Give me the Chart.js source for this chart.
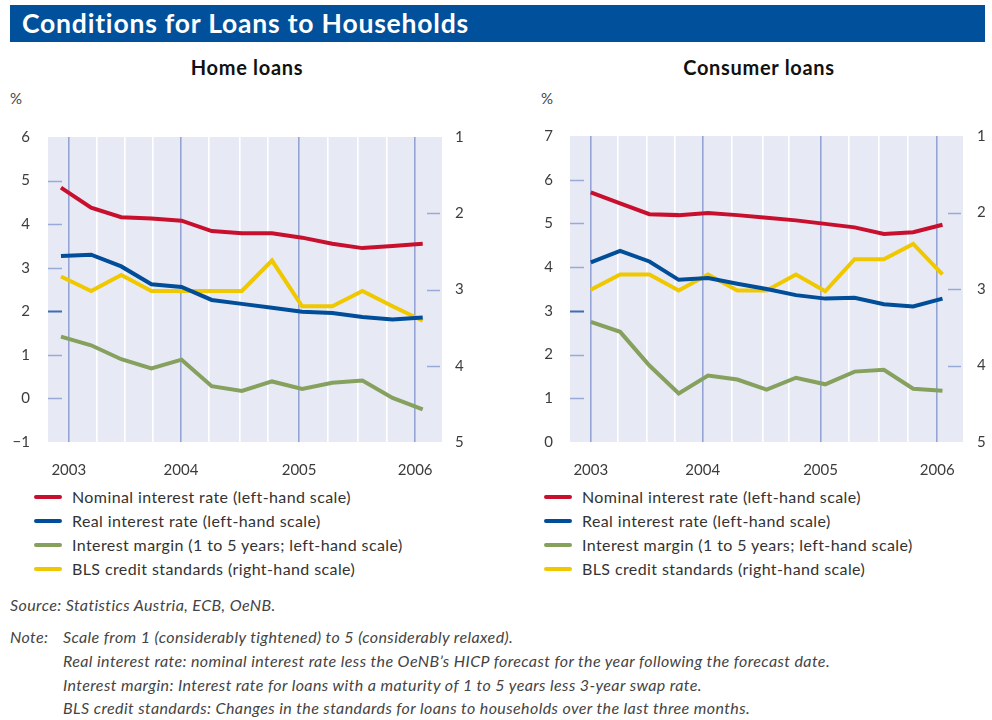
<!DOCTYPE html>
<html>
<head>
<meta charset="utf-8">
<script src="https://cdn.jsdelivr.net/npm/chart.js@4/dist/chart.umd.min.js"></script>
<style>
  body { margin: 0; width: 992px; height: 720px; background: #fff; font-family: Lato, "Open Sans", sans-serif; color: #333; position: relative; overflow: hidden; }
  .banner { position: absolute; left: 10px; top: 5px; width: 975px; height: 37px; background: #00509b; }
  .banner span { position: absolute; left: 12px; top: 2px; color: #fff; font-weight: bold; font-size: 26.5px; letter-spacing: 0.8px; white-space: nowrap; }
  .sub { position: absolute; top: 55px; font-weight: bold; font-size: 20px; letter-spacing: 0.7px; color: #111; text-align: center; width: 300px; }
  .pct { position: absolute; top: 89px; font-size: 15px; color: #444; }
  .box { position: absolute; top: 110px; height: 370px; }
  .legend { position: absolute; top: 486px; font-size: 16px; letter-spacing: 0.4px; color: #333; white-space: nowrap; }
  .legend div { height: 24px; line-height: 22px; position: relative; padding-left: 38px; }
  .legend i { position: absolute; left: 0; top: 9px; width: 28px; height: 4px; border-radius: 2px; }
  .src { position: absolute; left: 10px; top: 595px; font-size: 16px; letter-spacing: 0.4px; font-style: italic; color: #444; }
  .note { position: absolute; left: 10px; top: 625px; font-size: 16px; letter-spacing: 0.4px; font-style: italic; color: #444; line-height: 23.8px; white-space: nowrap; }
  .note div { padding-left: 53px; position: relative; }
  .note span { position: absolute; left: 0; }
</style>
</head>
<body>
<div class="banner"><span>Conditions for Loans to Households</span></div>
<div class="sub" style="left:97px">Home loans</div>
<div class="sub" style="left:609px">Consumer loans</div>
<div class="pct" style="left:10px">%</div>
<div class="pct" style="left:541px">%</div>

<div class="box" style="left:0; width:490px"><canvas id="homeChart"></canvas></div>
<div class="box" style="left:500px; width:492px"><canvas id="consumerChart"></canvas></div>

<div class="legend" style="left:34px" id="legendHome"></div>
<div class="legend" style="left:544px" id="legendConsumer"></div>

<div class="src">Source: Statistics Austria, ECB, OeNB.</div>
<div class="note">
  <div><span>Note:</span>Scale from 1 (considerably tightened) to 5 (considerably relaxed).</div>
  <div>Real interest rate: nominal interest rate less the OeNB’s HICP forecast for the year following the forecast date.</div>
  <div>Interest margin: Interest rate for loans with a maturity of 1 to 5 years less 3-year swap rate.</div>
  <div>BLS credit standards: Changes in the standards for loans to households over the last three months.</div>
</div>

<script>
const years = ['2003', '2004', '2005', '2006']
const seriesNames = [
  'Nominal interest rate (left-hand scale)',
  'Real interest rate (left-hand scale)',
  'Interest margin (1 to 5 years; left-hand scale)',
  'BLS credit standards (right-hand scale)'
]

// quarterly observations, 13 per panel
const homeNominal = [4.84, 4.38, 4.16, 4.13, 4.08, 3.84, 3.79, 3.79, 3.69, 3.55, 3.45, 3.50, 3.55]
const homeReal = [3.27, 3.30, 3.03, 2.62, 2.56, 2.26, 2.17, 2.08, 1.99, 1.96, 1.87, 1.81, 1.86]
const homeMargin = [1.42, 1.22, 0.90, 0.69, 0.89, 0.28, 0.17, 0.39, 0.22, 0.36, 0.41, 0.01, -0.25]
const homeBLS = [2.83, 3.02, 2.81, 3.02, 3.02, 3.02, 3.02, 2.62, 3.22, 3.22, 3.02, 3.22, 3.41]

const consumerNominal = [5.71, 5.46, 5.21, 5.19, 5.24, 5.19, 5.13, 5.07, 4.99, 4.91, 4.76, 4.80, 4.97]
const consumerReal = [4.11, 4.37, 4.13, 3.71, 3.75, 3.62, 3.50, 3.36, 3.28, 3.30, 3.15, 3.10, 3.28]
const consumerMargin = [2.75, 2.52, 1.75, 1.11, 1.52, 1.43, 1.20, 1.47, 1.32, 1.61, 1.65, 1.22, 1.17]
const consumerBLS = [3.01, 2.81, 2.81, 3.02, 2.81, 3.02, 3.02, 2.81, 3.03, 2.61, 2.61, 2.41, 2.81]

// vertical grid lines (every 4th is a year line)
const homeGridAt = [0.26, 1.18, 2.13, 3.03, 3.98, 4.92, 5.94, 6.86, 7.90, 8.85, 9.86, 10.81, 11.75]
const consumerGridAt = [0, 0.93, 1.91, 2.85, 3.82, 4.81, 5.86, 6.77, 7.84, 8.81, 9.84, 10.83, 11.82]

const colors = ['#c8102e', '#004d99', '#86a05e', '#f0c800']

Chart.defaults.font.family = 'Lato, "Open Sans", sans-serif'
Chart.defaults.font.size = 15
Chart.defaults.color = '#3c3c3c'

const panelPlugin = {
  id: 'panel',
  beforeDraw(chart) {
    const { ctx, chartArea: a } = chart
    ctx.save()
    ctx.fillStyle = '#e7eaf4'
    ctx.fillRect(a.left, a.top, a.right - a.left, a.bottom - a.top)
    ctx.restore()
  },
  afterDatasetsDraw(chart, args, opts) {
    const { ctx, chartArea: a, scales } = chart
    ctx.save()
    opts.leftTicks.forEach(v => {
      const y = Math.round(scales.y.getPixelForValue(v)) + 0.5
      ctx.strokeStyle = v === opts.darkTick ? '#3f6db3' : '#9aaad8'
      ctx.lineWidth = v === opts.darkTick ? 2 : 1.5
      ctx.beginPath()
      ctx.moveTo(a.left, y)
      ctx.lineTo(a.left + 14, y)
      ctx.stroke()
    })
    ctx.strokeStyle = '#9aaad8'
    ctx.lineWidth = 1.5
    opts.rightTicks.forEach(v => {
      const y = Math.round(scales.y2.getPixelForValue(v)) + 0.5
      ctx.beginPath()
      ctx.moveTo(a.right - 15, y)
      ctx.lineTo(a.right - 2, y)
      ctx.stroke()
    })
    ctx.restore()
  }
}

function series(values, color, axis) {
  return {
    data: values.map((v, i) => ({ x: i, y: v })),
    borderColor: color,
    borderWidth: 4,
    pointRadius: 0,
    tension: 0,
    yAxisID: axis
  }
}

function buildChart(id, d) {
  new Chart(document.getElementById(id).getContext('2d'), {
    type: 'line',
    data: {
      datasets: [
        series(d.nominal, colors[0], 'y'),
        series(d.real, colors[1], 'y'),
        series(d.margin, colors[2], 'y'),
        series(d.bls, colors[3], 'y2')
      ]
    },
    options: {
      responsive: true,
      maintainAspectRatio: false,
      animation: false,
      layout: { padding: { top: 14 } },
      plugins: {
        legend: { display: false },
        tooltip: { enabled: false },
        panel: { leftTicks: d.leftTicks, darkTick: d.darkTick, rightTicks: [2, 3, 4] }
      },
      scales: {
        x: {
          type: 'linear',
          min: d.xMin,
          max: d.xMax,
          afterBuildTicks: axis => { axis.ticks = d.grid.map(v => ({ value: v })) },
          afterFit: axis => { axis.height = 38 },
          border: { display: false },
          grid: {
            drawTicks: false,
            color: c => c.index % 4 === 0 ? '#93a4d5' : '#ffffff',
            lineWidth: 1.6
          },
          ticks: {
            padding: 19,
            autoSkip: false,
            maxRotation: 0,
            callback: (v, i) => i % 4 === 0 ? years[i / 4] : ''
          }
        },
        y: {
          position: 'left',
          min: d.yMin,
          max: d.yMax,
          afterFit: axis => { axis.width = d.leftW },
          border: { display: false },
          grid: { display: false, drawTicks: false },
          ticks: {
            stepSize: 1,
            padding: d.leftPad,
            callback: v => v < 0 ? '\u2212' + Math.abs(v) : v
          }
        },
        y2: {
          position: 'right',
          min: 1,
          max: 5,
          reverse: true,
          afterFit: axis => { axis.width = d.rightW },
          border: { display: false },
          grid: { display: false, drawTicks: false },
          ticks: { stepSize: 1, padding: d.rightPad }
        }
      }
    },
    plugins: [panelPlugin]
  })
}

buildChart('homeChart', {
  nominal: homeNominal, real: homeReal, margin: homeMargin, bls: homeBLS,
  grid: homeGridAt, xMin: -0.43, xMax: 12.64,
  yMin: -1, yMax: 6, leftTicks: [0, 1, 2, 3, 4, 5], darkTick: 2,
  leftW: 48, rightW: 48, leftPad: 18, rightPad: 13
})

buildChart('consumerChart', {
  nominal: consumerNominal, real: consumerReal, margin: consumerMargin, bls: consumerBLS,
  grid: consumerGridAt, xMin: -0.71, xMax: 12.7,
  yMin: 0, yMax: 7, leftTicks: [1, 2, 3, 4, 5, 6], darkTick: 3,
  leftW: 70, rightW: 29, leftPad: 17, rightPad: 14
})

function fillLegend(id) {
  document.getElementById(id).innerHTML = seriesNames
    .map((name, i) => `<div><i style="background:${colors[i]}"></i>${name}</div>`)
    .join('')
}
fillLegend('legendHome')
fillLegend('legendConsumer')
</script>
</body>
</html>
